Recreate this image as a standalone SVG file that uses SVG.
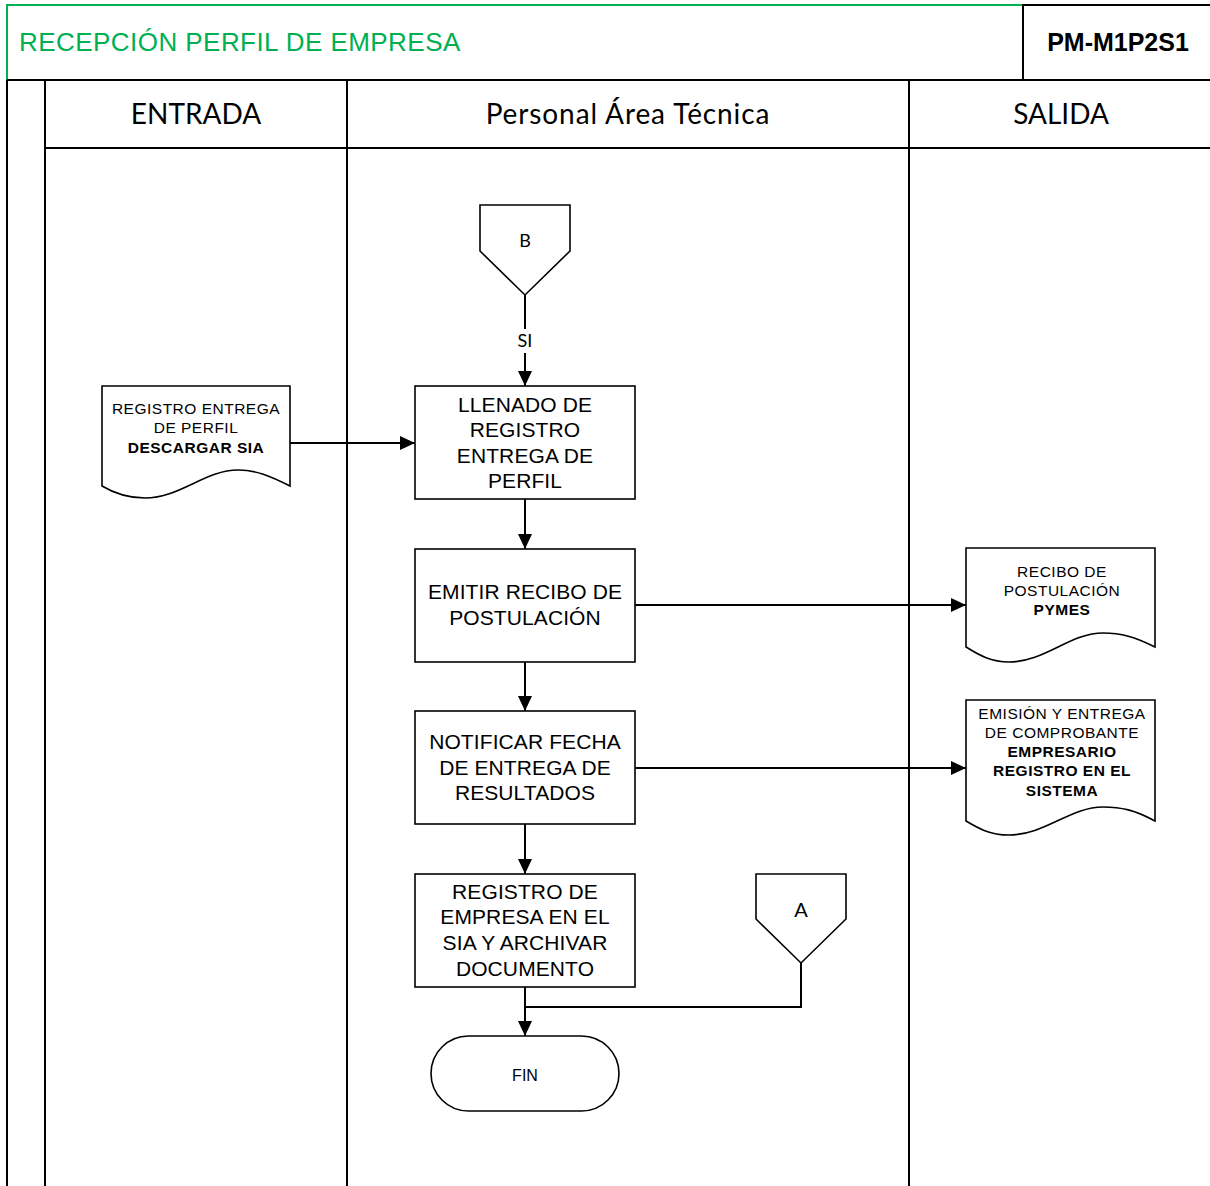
<svg xmlns="http://www.w3.org/2000/svg" width="1210" height="1186" viewBox="0 0 1210 1186">
  <defs>
    <marker id="arrow" markerWidth="16" markerHeight="14" refX="15" refY="7" orient="auto" markerUnits="userSpaceOnUse">
      <path d="M0,0 L15,7 L0,14 Z" fill="#000"/>
    </marker>
    <style>
      .frame { fill: none; stroke: #000; stroke-width: 2; }
      .green { fill: none; stroke: #00B050; stroke-width: 2; }
      .shape { fill: #fff; stroke: #000; stroke-width: 1.6; }
      .link { fill: none; stroke: #000; stroke-width: 2; }
      .arrow { marker-end: url(#arrow); }
      .title { font-family: "Liberation Sans", Arial, sans-serif; font-size: 26px; letter-spacing: 0.45px; fill: #00B050; }
      .code { font-family: "Liberation Sans", Arial, sans-serif; font-size: 25px; font-weight: bold; fill: #000; text-anchor: middle; }
      .lane { font-family: Lato, "Open Sans", sans-serif; font-size: 28px; fill: #000; text-anchor: middle; }
      .box { font-family: "Liberation Sans", Arial, sans-serif; font-size: 21px; letter-spacing: 0.1px; fill: #000; text-anchor: middle; }
      .doc { font-family: "Liberation Sans", Arial, sans-serif; font-size: 15.5px; letter-spacing: 0.5px; fill: #000; text-anchor: middle; }
      .bold { font-weight: bold; }
      .small { font-family: Lato, "Open Sans", sans-serif; font-size: 18px; fill: #000; text-anchor: middle; }
    </style>
  </defs>

  <rect width="1210" height="1186" fill="#fff"/>

  <!-- Header / swimlane frame -->
  <g id="frame">
    <path class="green" d="M7,81 V5 H1023"/>
    <rect class="frame" x="1023" y="5" width="190" height="75"/>
    <text class="title" x="19" y="51">RECEPCIÓN PERFIL DE EMPRESA</text>
    <text class="code" x="1118" y="51">PM-M1P2S1</text>
    <line class="frame" x1="7" y1="80" x2="1210" y2="80"/>
    <line class="frame" x1="7" y1="80" x2="7" y2="1186"/>
    <line class="frame" x1="45" y1="80" x2="45" y2="1186"/>
    <line class="frame" x1="347" y1="80" x2="347" y2="1186"/>
    <line class="frame" x1="909" y1="80" x2="909" y2="1186"/>
    <line class="frame" x1="45" y1="148" x2="1210" y2="148"/>
    <text class="lane" x="196" y="124">ENTRADA</text>
    <text class="lane" x="628" y="124" style="letter-spacing:0.9px">Personal Área Técnica</text>
    <text class="lane" x="1061" y="124">SALIDA</text>
  </g>

  <!-- Connectors -->
  <g id="connectors">
    <line class="link" x1="525" y1="295" x2="525" y2="329"/>
    <line class="link arrow" x1="525" y1="353" x2="525" y2="386"/>
    <text class="small" x="525" y="347">SI</text>
    <line class="link arrow" x1="290" y1="443" x2="415" y2="443"/>
    <line class="link arrow" x1="525" y1="499" x2="525" y2="549"/>
    <line class="link arrow" x1="635" y1="605" x2="966" y2="605"/>
    <line class="link arrow" x1="525" y1="662" x2="525" y2="711"/>
    <line class="link arrow" x1="635" y1="768" x2="966" y2="768"/>
    <line class="link arrow" x1="525" y1="824" x2="525" y2="874"/>
    <line class="link arrow" x1="525" y1="987" x2="525" y2="1036"/>
    <path class="link" d="M801,963 V1007 H525"/>
  </g>

  <!-- Off-page connector B -->
  <g id="node-b">
    <path class="shape" d="M480,205 H570 V251 L525,295 L480,251 Z"/>
    <text class="small" x="525" y="247">B</text>
  </g>

  <!-- Input document -->
  <g id="node-doc-in">
    <path class="shape" d="M102,386 H290 V486 C270,476 256,470 238,470 C205,470 180,498 145,498 C125,498 112,492 102,486 Z"/>
    <text class="doc" x="196" y="414">REGISTRO ENTREGA</text>
    <text class="doc" x="196" y="433">DE PERFIL</text>
    <text class="doc bold" x="196" y="453">DESCARGAR SIA</text>
  </g>

  <g id="node-llenado">
    <rect class="shape" x="415" y="386" width="220" height="113"/>
    <text class="box" x="525" y="412">LLENADO DE</text>
    <text class="box" x="525" y="437">REGISTRO</text>
    <text class="box" x="525" y="463">ENTREGA DE</text>
    <text class="box" x="525" y="488">PERFIL</text>
  </g>

  <g id="node-emitir">
    <rect class="shape" x="415" y="549" width="220" height="113"/>
    <text class="box" x="525" y="599">EMITIR RECIBO DE</text>
    <text class="box" x="525" y="625">POSTULACIÓN</text>
  </g>

  <g id="node-notificar">
    <rect class="shape" x="415" y="711" width="220" height="113"/>
    <text class="box" x="525" y="749">NOTIFICAR FECHA</text>
    <text class="box" x="525" y="775">DE ENTREGA DE</text>
    <text class="box" x="525" y="800">RESULTADOS</text>
  </g>

  <g id="node-registro">
    <rect class="shape" x="415" y="874" width="220" height="113"/>
    <text class="box" x="525" y="899">REGISTRO DE</text>
    <text class="box" x="525" y="924">EMPRESA EN EL</text>
    <text class="box" x="525" y="950">SIA Y ARCHIVAR</text>
    <text class="box" x="525" y="976">DOCUMENTO</text>
  </g>

  <!-- Off-page connector A -->
  <g id="node-a">
    <path class="shape" d="M756,874 H846 V919 L801,963 L756,919 Z"/>
    <text class="small" x="801" y="917" style="font-size:20px">A</text>
  </g>

  <g id="node-fin">
    <rect class="shape" x="431" y="1036" width="188" height="75" rx="37.5" ry="37.5"/>
    <text class="doc" x="525" y="1081" style="font-size:16px;letter-spacing:0">FIN</text>
  </g>

  <!-- Output documents -->
  <g id="node-doc-recibo">
    <path class="shape" d="M966,548 H1155 V647 C1135,637 1121,633 1103,633 C1070,633 1045,662 1009,662 C989,662 976,653 966,647 Z"/>
    <text class="doc" x="1062" y="577">RECIBO DE</text>
    <text class="doc" x="1062" y="596">POSTULACIÓN</text>
    <text class="doc bold" x="1062" y="615">PYMES</text>
  </g>

  <g id="node-doc-emision">
    <path class="shape" d="M966,700 H1155 V821 C1135,810 1121,807 1103,807 C1070,807 1045,835 1009,835 C989,835 976,827 966,821 Z"/>
    <text class="doc" x="1062" y="719">EMISIÓN Y ENTREGA</text>
    <text class="doc" x="1062" y="738">DE COMPROBANTE</text>
    <text class="doc bold" x="1062" y="757">EMPRESARIO</text>
    <text class="doc bold" x="1062" y="776">REGISTRO EN EL</text>
    <text class="doc bold" x="1062" y="796">SISTEMA</text>
  </g>
</svg>
